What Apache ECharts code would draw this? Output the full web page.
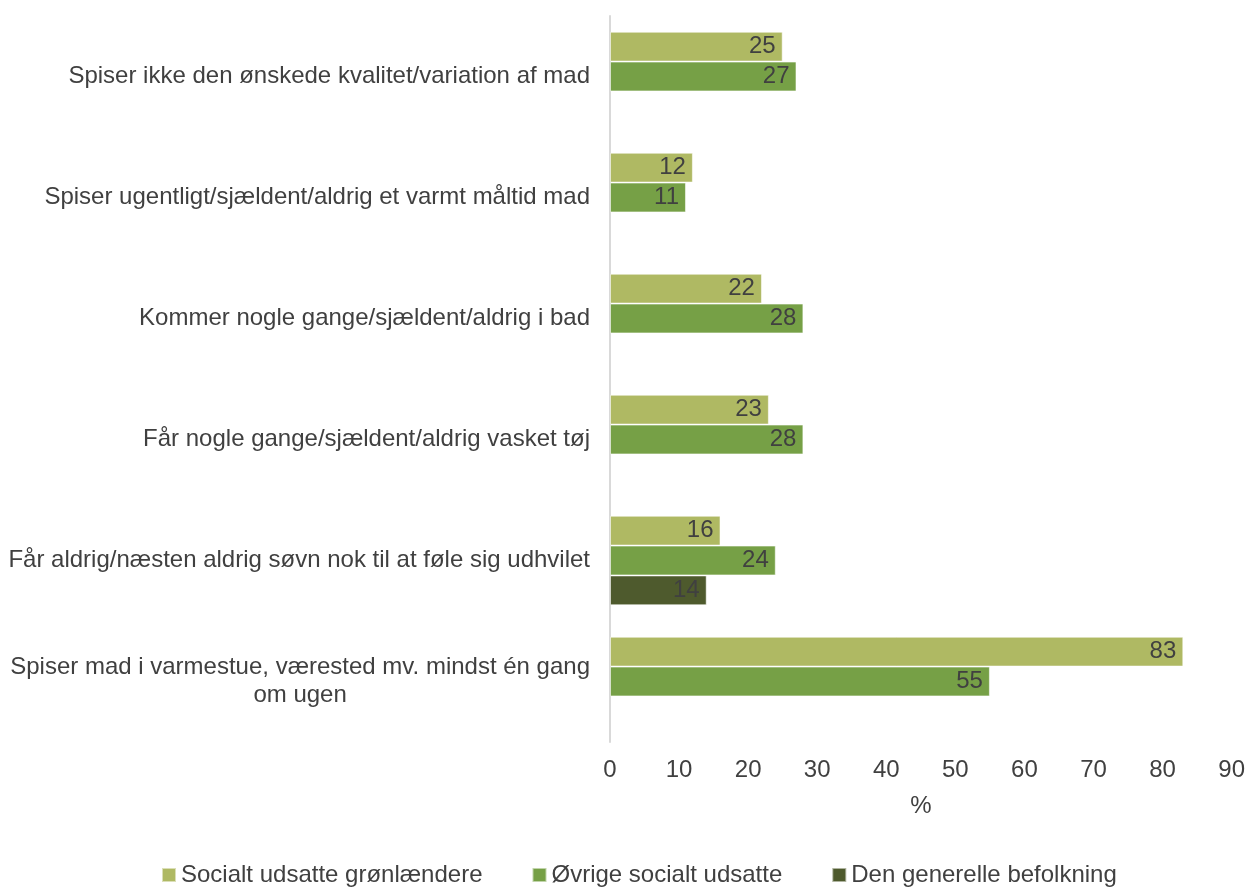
<!DOCTYPE html>
<html>
<head>
<meta charset="utf-8">
<script src="https://cdn.jsdelivr.net/npm/echarts@6/dist/echarts.min.js"></script>
<style>
html,body{margin:0;padding:0;background:#fff;}
#chart{width:1248px;height:887px;}
</style>
</head>
<body>
<div id="chart"></div>
<script>
const categories = [
  'Spiser ikke den ønskede kvalitet/variation af mad',
  'Spiser ugentligt/sjældent/aldrig et varmt måltid mad',
  'Kommer nogle gange/sjældent/aldrig i bad',
  'Får nogle gange/sjældent/aldrig vasket tøj',
  'Får aldrig/næsten aldrig søvn nok til at føle sig udhvilet',
  'Spiser mad i varmestue, værested mv. mindst én gang\nom ugen'
];
const seriesNames = ['Socialt udsatte grønlændere', 'Øvrige socialt udsatte', 'Den generelle befolkning'];
const greenlanders = [25, 12, 22, 23, 16, 83];
const otherExposed = [27, 11, 28, 28, 24, 55];
const generalPop = [null, null, null, null, 14, null];
const xTicks = [0, 90, 10];

const colors = ['#AFB963', '#76A046', '#4E5A2D'];
const textColor = '#404040';
const font = '"Liberation Sans", Arial, sans-serif';
const fs = 24;

function mkSeries(name, data, color) {
  return {
    name: name,
    type: 'bar',
    data: data,
    barGap: '0%',
    barCategoryGap: '26%',
    itemStyle: { color: color, borderColor: 'rgba(255,255,255,0.55)', borderWidth: 1 },
    label: {
      show: true,
      position: 'insideRight',
      distance: 7,
      color: textColor,
      fontSize: fs,
      fontFamily: font,
      formatter: p => (p.value == null ? '' : p.value)
    }
  };
}

const chart = echarts.init(document.getElementById('chart'), null, { renderer: 'canvas' });
chart.setOption({
  animation: false,
  textStyle: { fontFamily: font },
  grid: { left: 610, right: 16, top: 16, bottom: 145, containLabel: false },
  xAxis: {
    type: 'value',
    min: xTicks[0], max: xTicks[1], interval: xTicks[2],
    name: '%',
    nameLocation: 'middle',
    nameGap: 52,
    nameTextStyle: { color: textColor, fontSize: fs, fontFamily: font },
    axisLine: { show: false },
    axisTick: { show: false },
    splitLine: { show: false },
    axisLabel: { color: textColor, fontSize: fs, fontFamily: font, margin: 16 }
  },
  yAxis: {
    type: 'category',
    data: categories,
    inverse: true,
    axisLine: { show: true, lineStyle: { color: '#d9d9d9', width: 2 } },
    axisTick: { show: false },
    axisLabel: {
      color: textColor, fontSize: fs, fontFamily: font, margin: 20, lineHeight: 28,
      formatter: function (v) {
        const parts = v.split('\n');
        if (parts.length === 1) return '{a|' + v + '}';
        return '{a|' + parts[0] + '}\n{c|' + parts[1] + '}';
      },
      rich: {
        a: { color: textColor, fontSize: fs, fontFamily: font, lineHeight: 28 },
        c: { color: textColor, fontSize: fs, fontFamily: font, lineHeight: 28, align: 'center' }
      }
    }
  },
  legend: {
    data: seriesNames,
    top: 858,
    left: 156,
    icon: 'rect',
    itemWidth: 14,
    itemHeight: 14,
    itemGap: 49,
    textStyle: { color: textColor, fontSize: fs, fontFamily: font }
  },
  series: [
    mkSeries(seriesNames[0], greenlanders, colors[0]),
    mkSeries(seriesNames[1], otherExposed, colors[1]),
    mkSeries(seriesNames[2], generalPop, colors[2])
  ]
});
</script>
</body>
</html>
